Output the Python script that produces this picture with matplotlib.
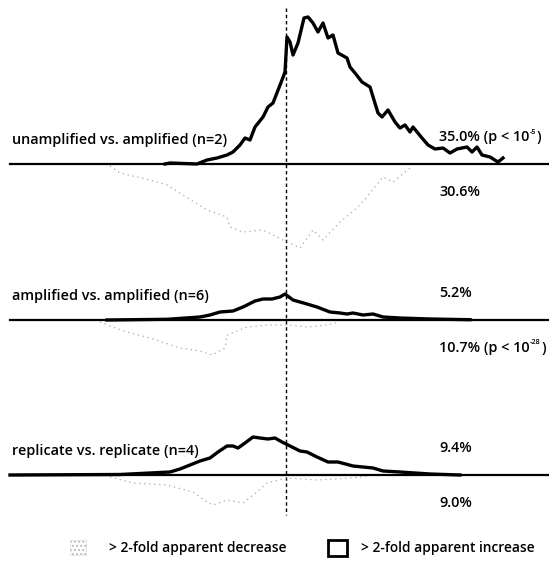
import matplotlib
matplotlib.use("Agg")
import matplotlib.pyplot as plt
from matplotlib.patches import Rectangle

plt.rcParams['font.family'] = ['Open Sans', 'DejaVu Sans']

# panel labels and percentages
labels = ['unamplified vs. amplified (n=2)',
          'amplified vs. amplified (n=6)',
          'replicate vs. replicate (n=4)']
pct_increase = ['35.0%', '5.2%', '9.4%']
pct_decrease = ['30.6%', '10.7%', '9.0%']
p_increase = ['-5', None, None]
p_decrease = [None, '-28', None]

# > 2-fold apparent increase (height above baseline)
inc1_x = [165, 170, 197, 207, 217, 227, 233, 240, 245, 250, 255, 263, 268, 273, 282, 285,
          287, 290, 293, 298, 304, 308, 313, 318, 323, 328, 333, 338, 347, 350, 355, 362,
          370, 378, 382, 388, 395, 400, 405, 410, 413, 422, 428, 435, 443, 450, 457, 467,
          472, 477, 482, 490, 498, 503]
inc1_y = [0, 1, 0, 4, 6, 9, 12, 19, 26, 24, 37, 47, 57, 61, 84, 92,
          127, 122, 109, 121, 146, 147, 141, 132, 141, 126, 129, 111, 106, 97, 91, 82,
          77, 51, 47, 54, 42, 36, 39, 32, 37, 26, 19, 15, 16, 11, 15, 17,
          12, 17, 9, 7, 2, 6]

inc2_x = [107, 167, 200, 210, 220, 233, 243, 255, 263, 272, 280, 285, 293, 307, 317, 330,
          340, 347, 353, 363, 373, 383, 400, 430, 470]
inc2_y = [0, 0.7, 3, 5, 8, 9, 13, 19, 21, 21, 23, 26, 20, 16, 13, 8,
          7, 6, 7, 5, 6, 3, 2, 1, 0.3]

inc3_x = [10, 120, 150, 170, 180, 190, 200, 210, 218, 227, 233, 238, 245, 253, 260, 268,
          275, 282, 290, 300, 307, 317, 328, 338, 353, 373, 383, 400, 430, 460]
inc3_y = [0, 0.5, 2, 3, 6, 10, 14, 17, 23, 29, 29, 27, 32, 38, 37, 36,
          37, 33, 29, 24, 23, 18, 13, 13, 9, 7, 4, 3, 1, 0]

# > 2-fold apparent decrease (depth below baseline)
dec1_x = [110, 120, 150, 167, 183, 207, 227, 230, 243, 263, 283, 300, 313, 323, 340, 357,
          367, 383, 393, 410]
dec1_y = [2, 9, 16, 21, 31, 46, 53, 63, 68, 66, 76, 84, 66, 76, 58, 44,
          33, 13, 18, 4]

dec2_x = [100, 107, 127, 150, 180, 200, 212, 225, 227, 247, 267, 287, 307, 327, 340]
dec2_y = [2, 5, 12, 18, 28, 31, 35, 28, 15, 7, 5, 5, 7, 5, 2]

dec3_x = [110, 133, 167, 193, 207, 213, 227, 243, 257, 267, 287, 317, 350, 370]
dec3_y = [2, 8, 10, 17, 27, 30, 25, 28, 17, 8, 3, 5, 3, 1]

baselines = [164, 320, 475]
increase = [(inc1_x, inc1_y), (inc2_x, inc2_y), (inc3_x, inc3_y)]
decrease = [(dec1_x, dec1_y), (dec2_x, dec2_y), (dec3_x, dec3_y)]

fig = plt.figure(figsize=(5.49, 5.71), dpi=100)
ax = fig.add_axes([0, 0, 1, 1])
ax.set_xlim(0, 549)
ax.set_ylim(571, 0)
ax.axis('off')
renderer = fig.canvas.get_renderer()

fs = 10.4


def right_x(t):
    # data x of the right edge of a text
    bb = t.get_window_extent(renderer=renderer)
    return ax.transData.inverted().transform((bb.x1, bb.y0))[0]


def pct_text(x, y, pct, expo):
    if expo is None:
        ax.text(x, y, pct, fontsize=fs, fontweight='semibold', va='center', ha='left')
        return
    t = ax.text(x, y, pct + ' (p < 10', fontsize=fs, fontweight='semibold',
                va='center', ha='left')
    x2 = right_x(t) + 0.5
    s = ax.text(x2, y - 5, expo, fontsize=5.2, fontweight='semibold',
                va='center', ha='left')
    x3 = right_x(s) + 0.3
    ax.text(x3, y, ')', fontsize=fs, fontweight='semibold', va='center', ha='left')


for i in range(3):
    b = baselines[i]
    ax.plot([10, 549], [b, b], color='black', lw=1.6, zorder=3)
    ix, iy = increase[i]
    ax.plot(ix, [b - v for v in iy], color='black', lw=2.4, zorder=4,
            solid_joinstyle='round')
    dx, dy = decrease[i]
    ax.plot(dx, [b + v for v in dy], color='#a8a8a8', lw=0.9,
            linestyle=(0, (1, 3)), zorder=2)
    ax.text(12, b - 24, labels[i], fontsize=fs, fontweight='semibold',
            va='center', ha='left')
    pct_text(439, b - 27, pct_increase[i], p_increase[i])
    pct_text(439, b + 28, pct_decrease[i], p_decrease[i])

ax.plot([286, 286], [8, 515], color='black', lw=1.0, linestyle=(0, (2.5, 2)), zorder=1)

# legend
ax.add_patch(Rectangle((70, 540), 16, 15, facecolor='white', edgecolor='#bbbbbb',
                       lw=0.6, hatch='....', linestyle=':'))
ax.text(109, 548, '> 2-fold apparent decrease', fontsize=9.9, fontweight='semibold',
        va='center', ha='left')
ax.add_patch(Rectangle((328, 540), 19, 16, facecolor='white', edgecolor='black', lw=2))
ax.text(361, 548, '> 2-fold apparent increase', fontsize=9.9, fontweight='semibold',
        va='center', ha='left')

fig.savefig('out.png', dpi=100)
